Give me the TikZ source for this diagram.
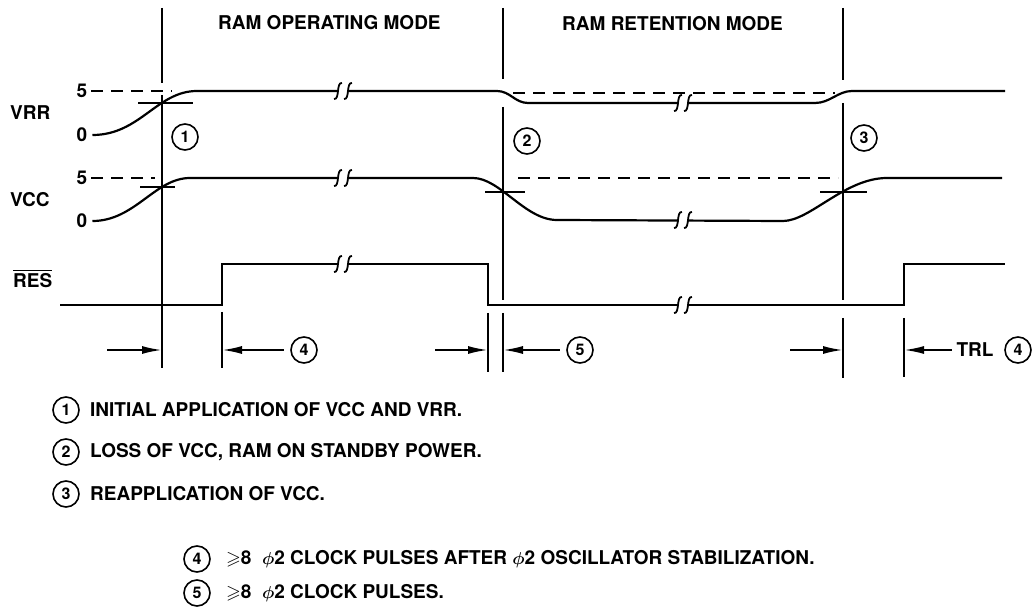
\documentclass[tikz,border=0pt]{standalone}
\usepackage{fontspec}
\setmainfont{TeX Gyre Heros}
\usepackage{amssymb}
\usetikzlibrary{arrows.meta}

\tikzset{
    sig/.style={line width=2.2pt},
    vline/.style={line width=1.4pt},
    lvl/.style={line width=1.4pt, dash pattern=on 12pt off 8pt},
    brkline/.style={line width=1.8pt},
    arr/.style={line width=2pt},
    num/.style={draw, circle, line width=1.6pt, minimum size=26pt, inner sep=0pt,
        font=\fontsize{16}{16}\selectfont\bfseries},
    lbl/.style={font=\fontsize{19}{21}\selectfont\bfseries\boldmath, inner sep=0pt},
    >={Latex[length=20pt,width=8pt]}
}

\begin{document}
\begin{tikzpicture}[x=1pt,y=-1pt]
        \useasboundingbox (0,0) rectangle (1033,609);

        % mode titles
        \node[lbl, anchor=west] (opmode) at (218,23) {RAM OPERATING MODE};
        \node[lbl, anchor=west] (retmode) at (562,24) {RAM RETENTION MODE};

        % signal names and levels
        \node[lbl, anchor=west] (lvrr) at (10,113) {VRR};
        \node[lbl, anchor=west] (lvcc) at (10,200) {VCC};
        \node[lbl, anchor=west] (lres) at (13,281) {RES};
        \draw[vline] ([yshift=3pt]lres.north west) -- ([yshift=3pt]lres.north east);
        \node[lbl] (vrrhi) at (82,91) {5};
        \node[lbl] (vrrlo) at (82,135) {0};
        \node[lbl] (vcchi) at (82,178) {5};
        \node[lbl] (vcclo) at (82,221) {0};

        % vertical markers
        \draw[vline] (162,8) -- (162,83);
        \draw[vline] (162,95) -- (162,368);
        \draw[vline] (503,8) -- (503,79);
        \draw[vline] (503,107) -- (503,300);
        \draw[vline] (503,313) -- (503,372);
        \draw[vline] (843,8) -- (843,80);
        \draw[vline] (843,103) -- (843,300);
        \draw[vline] (843,318) -- (843,378);
        \draw[vline] (222,312) -- (222,368);
        \draw[vline] (488,313) -- (488,372);
        \draw[vline] (904,318) -- (904,377);

        % dashed 5 V levels
        \draw[lvl] (vrrhi.east) ++(4,0) -- (172,91);
        \draw[lvl] (vcchi.east) ++(4,0) -- (155,178);
        \draw[lvl] (513,93) -- (835,93);
        \draw[lvl] (518,178) -- (838,178);

        % waveforms
        \draw[sig] (vrrlo.east) ++(5,0) .. controls (140,135) and (157,91) .. (197,91) -- (497,91)
            .. controls (510,91) and (515,103) .. (528,103) -- (815,103)
            .. controls (830,103) and (838,91) .. (852,91) -- (1005,91);
        \draw[sig] (vcclo.east) ++(5,0) .. controls (135,221) and (155,178) .. (190,178) -- (473,178)
            .. controls (500,178) and (525,220) .. (557,220) -- (783,221)
            .. controls (810,221) and (845,178) .. (887,178) -- (1002,178);
        \draw[sig] (60,305) -- (222,305) -- (222,264) -- (488,264) -- (488,305)
            -- (904,305) -- (904,264) -- (1005,264);

        % breaks
        \foreach \bx/\by in {343/91, 343/178, 343/264, 683/103, 683/220, 683/305}{
            \fill[white] (\bx-4,\by-4) rectangle (\bx+4,\by+4);
            \draw[brkline] (\bx-9,\by+8) .. controls (\bx-3,\by+9) and (\bx-7,\by-9) .. (\bx-1,\by-8);
            \draw[brkline] (\bx+1,\by+8) .. controls (\bx+7,\by+9) and (\bx+3,\by-9) .. (\bx+9,\by-8);
        }

        % threshold ticks
        \draw[vline] (138,103) -- (193,103);
        \draw[vline] (140,187) -- (175,187);
        \draw[vline] (485,192) -- (525,192);
        \draw[vline] (820,192) -- (867,192);

        % event numbers
        \node[num] (ev1) at (185,137) {1};
        \node[num] (ev2) at (527,141) {2};
        \node[num] (ev3) at (864,138) {3};

        % timing arrows
        \coordinate (A) at (107,350);
        \coordinate (B) at (162,350);
        \coordinate (C) at (222,350);
        \coordinate (D) at (435,350);
        \coordinate (E) at (488,350);
        \coordinate (F) at (503,350);
        \coordinate (G) at (790,350);
        \coordinate (H) at (843,350);
        \coordinate (I) at (904,350);
        \node[num] (tm4) at (304,350) {4};
        \node[num] (tm5) at (580,350) {5};
        \node[lbl] (trl) at (975,350) {TRL};
        \node[num] (tr4) at (1018,350) {4};

        \draw[arr, ->] (A) -- (B);
        \draw[arr, <-] (C) -- (tm4.west) [shorten >=6pt];
        \draw[arr, ->] (D) -- (E);
        \draw[arr, <-] (F) -- (tm5.west) [shorten >=6pt];
        \draw[arr, ->] (G) -- (H);
        \draw[arr, <-] (I) -- (trl.west) [shorten >=4pt];

        % notes
        \node[num] (nt1) at (66,410) {1};
        \node[num] (nt2) at (66,452) {2};
        \node[num] (nt3) at (66,494) {3};
        \node[num] (nt4) at (197,559) {4};
        \node[num] (nt5) at (197,593) {5};
        \node[lbl, anchor=west] (tx1) at (90,410) {INITIAL APPLICATION OF VCC AND VRR.};
        \node[lbl, anchor=west] (tx2) at (90,452) {LOSS OF VCC, RAM ON STANDBY POWER.};
        \node[lbl, anchor=west] (tx3) at (90,494) {REAPPLICATION OF VCC.};
        \node[lbl, anchor=west] (tx4) at (226,559) {$\geqslant$8\ \ $\phi$2 CLOCK PULSES AFTER $\phi$2 OSCILLATOR STABILIZATION.};
        \node[lbl, anchor=west] (tx5) at (226,593) {$\geqslant$8\ \ $\phi$2 CLOCK PULSES.};
\end{tikzpicture}
\end{document}
